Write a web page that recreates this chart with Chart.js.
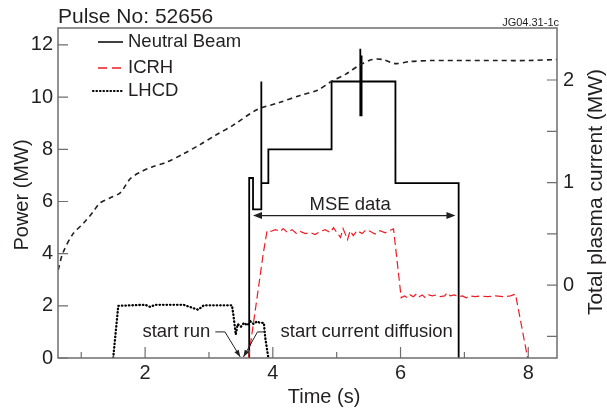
<!DOCTYPE html>
<html>
<head>
<meta charset="utf-8">
<style>
  html, body { margin: 0; padding: 0; background: #fff; }
  #c { display: block; }
</style>
</head>
<body>
<canvas id="c" width="607" height="415"></canvas>
<script src="https://cdn.jsdelivr.net/npm/chart.js@4.4.0/dist/chart.umd.min.js"></script>
<script>
// Neutral beam power (MW), step trace
const beamTime  = [3.63, 3.63, 3.69, 3.69, 3.82, 3.82, 3.82, 3.93, 3.93, 4.92, 4.92, 5.37, 5.37, 5.37, 5.39, 5.39, 5.39, 5.92, 5.92, 6.91, 6.91];
const beamPower = [0,    6.9,  6.9,  5.7,  5.7,  10.6, 6.7,  6.7,  8.0,  8.0,  10.6, 10.6, 11.85, 9.3, 9.3, 11.6, 10.6, 10.6, 6.7,  6.7,  0];

// ICRH power (MW)
const icrhTime  = [3.62, 3.85, 3.91, 3.96, 4.04, 4.12, 4.16, 4.23, 4.30, 4.37, 4.43, 4.51, 4.59, 4.66, 4.74, 4.82, 4.90, 4.95, 4.99, 5.06, 5.10, 5.17, 5.21, 5.26, 5.32, 5.40, 5.46, 5.53, 5.60, 5.68, 5.76, 5.84, 5.89,
                   6.01, 6.06, 6.11, 6.15, 6.20, 6.25, 6.29, 6.34, 6.39, 6.44, 6.50, 6.56, 6.62, 6.69, 6.73, 6.78, 6.84, 6.91, 6.97, 7.03, 7.09, 7.17, 7.25, 7.36, 7.49, 7.61, 7.72, 7.80, 7.99];
const icrhPower = [0,    4.0,  4.88, 4.85, 4.92, 4.85, 4.96, 4.81, 4.92, 4.77, 4.85, 4.77, 4.81, 4.73, 4.85, 4.92, 4.81, 5.0,  4.85, 4.62, 4.96, 4.54, 4.88, 4.69, 4.88, 4.77, 4.92, 4.85, 4.75, 4.88, 4.80, 4.90, 4.95,
                   2.31, 2.38, 2.31, 2.42, 2.35, 2.46, 2.35, 2.42, 2.31, 2.42, 2.38, 2.42, 2.35, 2.38, 2.5,  2.38, 2.42, 2.35, 2.38, 2.31, 2.38, 2.35, 2.38, 2.35, 2.38, 2.35, 2.38, 2.45, 0];

// LHCD power (MW)
const lhcdTime  = [1.50, 1.58, 2.00, 2.08, 2.16, 2.60, 2.83, 2.92, 3.36, 3.38, 3.42, 3.45, 3.50, 3.55, 3.60, 3.65, 3.70, 3.75, 3.80, 3.86, 3.88, 3.93];
const lhcdPower = [0,    2.0,  2.04, 1.96, 2.04, 2.04, 1.85, 2.02, 2.02, 1.7,  0.9,  1.3,  1.2,  1.35, 1.25, 1.4,  1.3,  1.4,  1.35, 1.35, 0.8,  0];

// Total plasma current (right axis)
const ipTime    = [0.64, 0.71, 0.87, 1.03, 1.18, 1.29, 1.45, 1.61, 1.77, 1.92, 2.10, 2.34, 2.60, 2.86, 3.10, 3.38, 3.75, 4.10, 4.43, 4.70, 4.90, 5.15, 5.37, 5.56, 5.72, 5.92, 6.15, 6.50, 7.00, 7.50, 8.00, 8.45];
const ipCurrent = [0.15, 0.31, 0.50, 0.60, 0.71, 0.80, 0.85, 0.90, 1.04, 1.10, 1.15, 1.20, 1.28, 1.37, 1.46, 1.56, 1.71, 1.78, 1.85, 1.90, 1.98, 2.06, 2.15, 2.20, 2.20, 2.16, 2.18, 2.19, 2.19, 2.19, 2.19, 2.20];

const xMinorTicks = [1, 3, 5, 7];
const y2MinorTicks = [-0.5, 0.5, 1.5];

function pts(xs, ys) { return xs.map((x, i) => ({ x: x, y: ys[i] })); }

const FONT = '"Liberation Sans", Arial, sans-serif';
const TXT = '#231f20';

const decor = {
    id: 'decor',
    afterDraw(chart) {
        const ctx = chart.ctx;
        const a = chart.chartArea;
        const sx = chart.scales.x, sy = chart.scales.y, sy2 = chart.scales.y2;
        ctx.save();

        // frame
        ctx.strokeStyle = '#6d6e71';
        ctx.lineWidth = 1.5;
        ctx.strokeRect(a.left, a.top, a.right - a.left, a.bottom - a.top);

        // inward ticks
        ctx.beginPath();
        sy.ticks.forEach(t => { const p = sy.getPixelForValue(t.value); ctx.moveTo(a.left, p); ctx.lineTo(a.left + 10, p); });
        sy2.ticks.forEach(t => { const p = sy2.getPixelForValue(t.value); ctx.moveTo(a.right, p); ctx.lineTo(a.right - 10, p); });
        y2MinorTicks.forEach(v => { const p = sy2.getPixelForValue(v); ctx.moveTo(a.right, p); ctx.lineTo(a.right - 10, p); });
        sx.ticks.forEach(t => { const p = sx.getPixelForValue(t.value); ctx.moveTo(p, a.bottom); ctx.lineTo(p, a.bottom - 11); });
        xMinorTicks.forEach(v => { const p = sx.getPixelForValue(v); ctx.moveTo(p, a.bottom); ctx.lineTo(p, a.bottom - 6); });
        ctx.lineWidth = 1.2;
        ctx.stroke();

        // titles
        ctx.fillStyle = TXT;
        ctx.textBaseline = 'middle';
        ctx.font = '21px ' + FONT;
        ctx.textAlign = 'left';
        ctx.fillText('Pulse No: 52656', a.left, 17);
        ctx.font = '11px ' + FONT;
        ctx.textAlign = 'right';
        ctx.fillText('JG04.31-1c', a.right + 2, 23);

        ctx.font = '20px ' + FONT;
        ctx.textAlign = 'center';
        ctx.fillText('Time (s)', 324, 397);
        ctx.save();
        ctx.translate(22, 195);
        ctx.rotate(-Math.PI / 2);
        ctx.fillText('Power (MW)', 0, 0);
        ctx.restore();
        ctx.save();
        ctx.translate(596, 192);
        ctx.rotate(-Math.PI / 2);
        ctx.font = '21px ' + FONT;
        ctx.fillText('Total plasma current (MW)', 0, 0);
        ctx.restore();

        // legend
        const legend = [
            { label: 'Neutral Beam', color: '#000', dash: [], width: 1.5, cap: 'butt', x0: 98, y: 42 },
            { label: 'ICRH', color: '#ed1c24', dash: [9, 5], width: 1.3, cap: 'butt', x0: 98, y: 68 },
            { label: 'LHCD', color: '#000', dash: [0.5, 3], width: 2.2, cap: 'round', x0: 93, y: 91 }
        ];
        legend.forEach(l => {
            ctx.beginPath();
            ctx.setLineDash(l.dash);
            ctx.lineCap = l.cap;
            ctx.strokeStyle = l.color;
            ctx.lineWidth = l.width;
            ctx.moveTo(l.x0, l.y);
            ctx.lineTo(123, l.y);
            ctx.stroke();
            ctx.setLineDash([]);
            ctx.lineCap = 'butt';
            ctx.fillStyle = TXT;
            ctx.font = '18.5px ' + FONT;
            ctx.textAlign = 'left';
            ctx.fillText(l.label, 128, l.y);
        });

        // MSE data arrow
        const my = sy.getPixelForValue(5.46);
        const mx1 = sx.getPixelForValue(3.69), mx2 = sx.getPixelForValue(6.86);
        ctx.strokeStyle = '#231f20';
        ctx.fillStyle = '#231f20';
        ctx.lineWidth = 1.2;
        ctx.beginPath(); ctx.moveTo(mx1 + 6, my); ctx.lineTo(mx2 - 6, my); ctx.stroke();
        arrowHead(ctx, mx1, my, Math.PI);
        arrowHead(ctx, mx2, my, 0);
        ctx.font = '18.5px ' + FONT;
        ctx.textAlign = 'center';
        ctx.fillText('MSE data', sx.getPixelForValue(5.21), sy.getPixelForValue(5.85));

        // start run / start current diffusion
        const ly = sy.getPixelForValue(1.0);
        const runTip = [sx.getPixelForValue(3.49), sy.getPixelForValue(0.04)];
        const difTip = [sx.getPixelForValue(3.54), sy.getPixelForValue(0.04)];
        ctx.lineWidth = 1;
        ctx.beginPath();
        ctx.moveTo(sx.getPixelForValue(3.10), ly);
        ctx.lineTo(sx.getPixelForValue(3.25), ly);
        ctx.lineTo(runTip[0], runTip[1]);
        ctx.moveTo(sx.getPixelForValue(3.88), ly);
        ctx.lineTo(sx.getPixelForValue(3.76), ly);
        ctx.lineTo(difTip[0], difTip[1]);
        ctx.stroke();
        arrowHead(ctx, runTip[0], runTip[1], Math.atan2(runTip[1] - ly, runTip[0] - sx.getPixelForValue(3.25)), 7, 2.5);
        arrowHead(ctx, difTip[0], difTip[1], Math.atan2(difTip[1] - ly, difTip[0] - sx.getPixelForValue(3.76)), 7, 2.5);
        ctx.font = '18.5px ' + FONT;
        ctx.textAlign = 'right';
        ctx.fillText('start run', sx.getPixelForValue(3.02), ly);
        ctx.textAlign = 'left';
        ctx.fillText('start current diffusion', sx.getPixelForValue(4.12), ly);

        ctx.restore();
    }
};

function arrowHead(ctx, x, y, ang, len, half) {
    len = len || 9; half = half || 3.5;
    ctx.save();
    ctx.translate(x, y);
    ctx.rotate(ang);
    ctx.beginPath();
    ctx.moveTo(0, 0);
    ctx.lineTo(-len, -half);
    ctx.lineTo(-len, half);
    ctx.closePath();
    ctx.fill();
    ctx.restore();
}

const tickFont = { family: FONT, size: 20 };

new Chart(document.getElementById('c').getContext('2d'), {
    type: 'line',
    data: {
        datasets: [
            { label: 'Total plasma current', data: pts(ipTime, ipCurrent), yAxisID: 'y2', borderColor: '#231f20', borderWidth: 1.6, borderDash: [5, 4], pointRadius: 0, tension: 0.3 },
            { label: 'LHCD', data: pts(lhcdTime, lhcdPower), yAxisID: 'y', borderColor: '#000', borderWidth: 2.3, borderDash: [0.5, 3], borderCapStyle: 'round', pointRadius: 0 },
            { label: 'ICRH', data: pts(icrhTime, icrhPower), yAxisID: 'y', borderColor: '#ed1c24', borderWidth: 1.2, borderDash: [8, 4], pointRadius: 0 },
            { label: 'Neutral Beam', data: pts(beamTime, beamPower), yAxisID: 'y', borderColor: '#000', borderWidth: 1.8, pointRadius: 0 }
        ]
    },
    options: {
        responsive: false,
        animation: false,
        layout: { padding: { top: 28, left: 0, right: 0, bottom: 0 } },
        plugins: { legend: { display: false }, tooltip: { enabled: false } },
        scales: {
            x: {
                type: 'linear', min: 0.636, max: 8.45,
                grid: { display: false, drawTicks: false }, border: { display: false },
                ticks: { stepSize: 2, includeBounds: false, font: tickFont, color: TXT, padding: 3, maxRotation: 0 },
                afterFit: s => { s.height = 57; }
            },
            y: {
                position: 'left', min: 0, max: 12.65,
                grid: { display: false, drawTicks: false }, border: { display: false },
                ticks: { stepSize: 2, includeBounds: false, font: tickFont, color: TXT, padding: 5 },
                afterFit: s => { s.width = 58; }
            },
            y2: {
                position: 'right', min: -0.71, max: 2.507,
                grid: { display: false, drawTicks: false }, border: { display: false },
                ticks: { stepSize: 1, includeBounds: false, font: tickFont, color: TXT, padding: 6 },
                afterFit: s => { s.width = 50; }
            }
        }
    },
    plugins: [decor]
});
</script>
</body>
</html>
